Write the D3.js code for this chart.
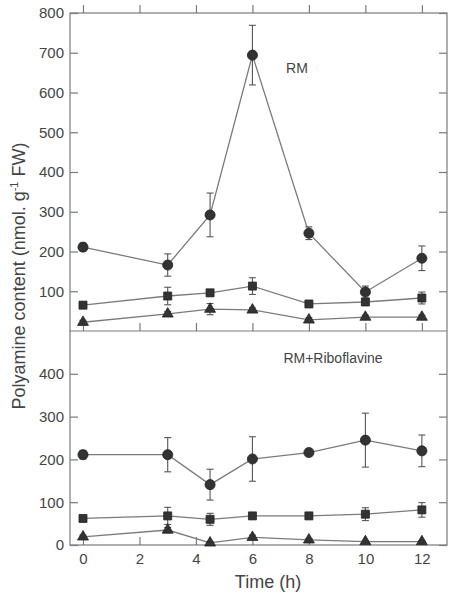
<!DOCTYPE html>
<html><head><meta charset="utf-8">
<script src="https://cdn.jsdelivr.net/npm/d3@7"></script>
<style>body{margin:0;background:#fff}svg{display:block}</style>
</head><body>
<script>
const times = [0, 3, 4.5, 6, 8, 10, 12];
const xTicks = [0, 2, 4, 6, 8, 10, 12];
// RM panel
const rmCircle = [211, 166, 292, 694, 246, 98, 183];
const rmCircleErr = [10, 28, 55, 75, 16, 15, 31];
const rmSquare = [65, 88, 96, 113, 68, 73, 83];
const rmSquareErr = [6, 22, 8, 21, 5, 6, 15];
const rmTriangle = [22, 43, 55, 53, 28, 35, 35];
const rmTriangleErr = [5, 6, 14, 5, 5, 5, 5];
// RM+Riboflavine panel
const riboCircle = [211, 211, 141, 201, 216, 245, 220];
const riboCircleErr = [10, 40, 36, 52, 8, 63, 37];
const riboSquare = [62, 68, 60, 68, 68, 72, 82];
const riboSquareErr = [5, 20, 14, 6, 4, 15, 17];
const riboTriangle = [19, 35, 5, 18, 12, 8, 8];
const riboTriangleErr = [4, 6, 3, 5, 3, 2, 2];
const topTicks = [100, 200, 300, 400, 500, 600, 700, 800];
const bottomTicks = [0, 100, 200, 300, 400];
const panelLabels = ["RM", "RM+Riboflavine"];

const W = 449, H = 594;
const L = 70, R = 447, T = 13, MID = 331, B = 545;
const lineCol = "#7a7a7a", markCol = "#333", textCol = "#444";
const font = "'Liberation Sans', Arial, sans-serif";

const svg = d3.select("body").append("svg").attr("width", W).attr("height", H);
const x = d3.scaleLinear().domain([-0.46, 12.89]).range([L, R]);
const yTop = d3.scaleLinear().domain([0, 800]).range([MID, T]);
const yBot = d3.scaleLinear().domain([0, 500]).range([B, MID]);

// frame
const frame = svg.append("g").attr("fill", "none").attr("stroke", lineCol).attr("stroke-width", 1.2);
frame.append("rect").attr("x", L).attr("y", T).attr("width", R - L).attr("height", B - T);
frame.append("line").attr("x1", L).attr("x2", R).attr("y1", MID).attr("y2", MID);

function yAxes(y, ticks, labelled) {
  const gl = svg.append("g").attr("transform", `translate(${L},0)`)
    .call(d3.axisLeft(y).tickValues(ticks).tickSizeInner(-8).tickSizeOuter(0).tickPadding(6)
      .tickFormat(d => labelled.includes(d) ? d : ""));
  gl.select(".domain").remove();
  gl.selectAll("line").attr("stroke", lineCol).attr("stroke-width", 1.2);
  gl.selectAll("text").attr("fill", textCol).style("font-family", font).style("font-size", "15px");
  const gr = svg.append("g").attr("transform", `translate(${R},0)`)
    .call(d3.axisRight(y).tickValues(ticks).tickSizeInner(-8).tickSizeOuter(0).tickFormat(""));
  gr.select(".domain").remove();
  gr.selectAll("line").attr("stroke", lineCol).attr("stroke-width", 1.2);
}
yAxes(yTop, topTicks, topTicks);
yAxes(yBot, bottomTicks, bottomTicks);

function xAxis(yPos, dir, labels) {
  const ax = dir === "up" ? d3.axisBottom(x) : d3.axisTop(x);
  const g = svg.append("g").attr("transform", `translate(0,${yPos})`)
    .call(ax.tickValues(xTicks).tickSizeInner(dir === "up" ? -8 : 8).tickSizeOuter(0).tickPadding(8)
      .tickFormat(labels ? d => d : ""));
  g.select(".domain").remove();
  g.selectAll("line").attr("stroke", lineCol).attr("stroke-width", 1.2);
  g.selectAll("text").attr("fill", textCol).style("font-family", font).style("font-size", "15px");
}
xAxis(T, "down", false);
xAxis(MID, "up", false);
xAxis(B, "up", true);

const sym = {
  circle: d3.symbol().type(d3.symbolCircle).size(80),
  square: d3.symbol().type(d3.symbolSquare).size(64),
  triangle: d3.symbol().type(d3.symbolTriangle).size(52)
};

function series(y, vals, errs, shape) {
  const pts = times.map((t, i) => ({t, v: vals[i], e: errs[i]}));
  const g = svg.append("g");
  g.append("path").datum(pts)
    .attr("d", d3.line().x(d => x(d.t)).y(d => y(d.v)))
    .attr("fill", "none").attr("stroke", lineCol).attr("stroke-width", 1.3);
  const eb = g.selectAll(".eb").data(pts).enter().append("g")
    .attr("stroke", "#555").attr("stroke-width", 1.1);
  eb.append("line").attr("x1", d => x(d.t)).attr("x2", d => x(d.t))
    .attr("y1", d => y(d.v + d.e)).attr("y2", d => y(Math.max(0, d.v - d.e)));
  eb.append("line").attr("x1", d => x(d.t) - 3.5).attr("x2", d => x(d.t) + 3.5)
    .attr("y1", d => y(d.v + d.e)).attr("y2", d => y(d.v + d.e));
  eb.append("line").attr("x1", d => x(d.t) - 3.5).attr("x2", d => x(d.t) + 3.5)
    .attr("y1", d => y(Math.max(0, d.v - d.e))).attr("y2", d => y(Math.max(0, d.v - d.e)));
  g.selectAll(".m").data(pts).enter().append("path")
    .attr("d", sym[shape])
    .attr("transform", d => `translate(${x(d.t)},${y(d.v)})`)
    .attr("fill", markCol).attr("stroke", "#222").attr("stroke-width", 0.8);
}
series(yTop, rmCircle, rmCircleErr, "circle");
series(yTop, rmSquare, rmSquareErr, "square");
series(yTop, rmTriangle, rmTriangleErr, "triangle");
series(yBot, riboCircle, riboCircleErr, "circle");
series(yBot, riboSquare, riboSquareErr, "square");
series(yBot, riboTriangle, riboTriangleErr, "triangle");

// panel labels
svg.append("text").attr("x", 297).attr("y", 73).attr("text-anchor", "middle")
  .attr("fill", textCol).style("font-family", font).style("font-size", "14px").text(panelLabels[0]);
svg.append("text").attr("x", 333).attr("y", 363).attr("text-anchor", "middle")
  .attr("fill", textCol).style("font-family", font).style("font-size", "14px").text(panelLabels[1]);

// axis titles
svg.append("text").attr("x", 268).attr("y", 588).attr("text-anchor", "middle")
  .attr("fill", textCol).style("font-family", font).style("font-size", "18px").text("Time (h)");
const yt = svg.append("text").attr("transform", "translate(25,276) rotate(-90)")
  .attr("text-anchor", "middle").attr("fill", textCol)
  .style("font-family", font).style("font-size", "18px");
yt.append("tspan").text("Polyamine content (nmol. g");
yt.append("tspan").attr("dy", -7).style("font-size", "11px").text("-1");
yt.append("tspan").attr("dy", 7).text(" FW)");
</script>
</body></html>
